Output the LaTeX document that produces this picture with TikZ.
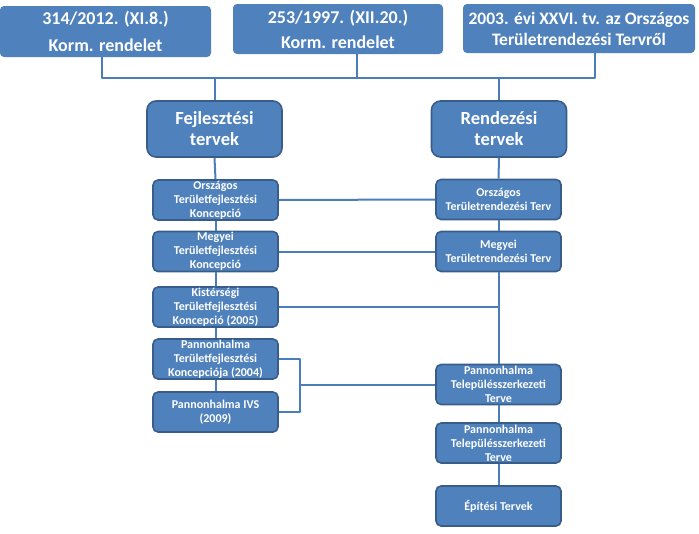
\documentclass[tikz,border=0pt]{standalone}
\usepackage{fontspec}
\setmainfont{Carlito}
\definecolor{boxfill}{RGB}{79,129,189}
\definecolor{boxline}{RGB}{56,93,138}
\definecolor{conline}{RGB}{74,126,187}
\begin{document}
\begin{tikzpicture}[x=1pt,y=-1pt,line join=round,
  topbox/.style={fill=boxfill,rounded corners=4pt,align=center,inner sep=0pt,text=white,font=\fontsize{18}{21}\selectfont\bfseries},
  mainbox/.style={fill=boxfill,draw=boxline,line width=1.6pt,rounded corners=9pt,align=center,inner sep=0pt,text=white,minimum width=135pt,minimum height=56pt,font=\fontsize{18.5}{21}\selectfont\bfseries},
  planbox/.style={fill=boxfill,draw=boxline,line width=1.6pt,rounded corners=5pt,align=center,inner sep=0pt,text=white,minimum width=125pt,minimum height=40pt,font=\fontsize{12}{14}\selectfont\bfseries},
  conn/.style={draw=conline,line width=2pt}]
\useasboundingbox (0,0) rectangle (699,533);
% jogszabalyok
\node[topbox,minimum width=211pt,minimum height=51pt] (korm1) at (105.5,31.5) {314/2012. (XI.8.)\\[6pt]Korm. rendelet};
\node[topbox,minimum width=210pt,minimum height=50pt] (korm2) at (338,29) {253/1997. (XII.20.)\\[4pt]Korm. rendelet};
\node[topbox,minimum width=232pt,minimum height=49pt,font=\fontsize{17.5}{21}\selectfont\bfseries] (torv) at (579,28.5) {2003. évi XXVI. tv. az Országos\\Területrendezési Tervről};
\coordinate (j1) at (102,78);
\coordinate (j2) at (357,78);
\coordinate (j3) at (595,78);
\draw[conn] (korm1.south -| j1)--(j1)--(j3)--(torv.south -| j3);
\draw[conn] (korm2.south -| j2)--(j2);
% ket ag
\node[mainbox] (fej) at (214.5,129) {Fejlesztési\\tervek};
\node[mainbox] (ren) at (499,129) {Rendezési\\tervek};
\draw[conn] (fej.north)--(fej.north |- j1);
\draw[conn] (ren.north)--(ren.north |- j1);
% fejlesztesi tervek
\node[planbox] (otk) at (215.5,200) {Országos\\Területfejlesztési\\Koncepció};
\node[planbox] (mtk) at (215.5,251.5) {Megyei\\Területfejlesztési\\Koncepció};
\node[planbox] (ktk) at (215.5,307) {Kistérségi\\Területfejlesztési\\Koncepció (2005)};
\node[planbox] (ptk) at (215.5,359) {Pannonhalma\\Területfejlesztési\\Koncepciója (2004)};
\node[planbox] (ivs) at (215.5,412) {Pannonhalma IVS\\(2009)};
% rendezesi tervek
\node[planbox] (otrt) at (498.5,199.5) {Országos\\Területrendezési Terv};
\node[planbox] (mtrt) at (498.5,251.5) {Megyei\\Területrendezési Terv};
\node[planbox] (ptsz1) at (498.5,384.5) {Pannonhalma\\Településszerkezeti\\Terve};
\node[planbox] (ptsz2) at (498.5,443) {Pannonhalma\\Településszerkezeti\\Terve};
\node[planbox] (epit) at (498.5,506) {Építési Tervek};
\foreach \a/\b in {fej/otk,otk/mtk,mtk/ktk,ktk/ptk,ptk/ivs,ren/otrt,otrt/mtrt,mtrt/ptsz1,ptsz1/ptsz2,ptsz2/epit}
  \draw[conn] (\a.south)--(\b.north);
\draw[conn] (otk.east)--(otrt.west);
\draw[conn] (mtk.east)--(mtrt.west);
\draw[conn] (ktk.east)--(ktk.east -| otrt.south);
\coordinate (br) at (300,384.5);
\draw[conn] (ptk.east)-|(br)|-(ivs.east);
\draw[conn] (br)--(ptsz1.west);
\end{tikzpicture}
\end{document}
